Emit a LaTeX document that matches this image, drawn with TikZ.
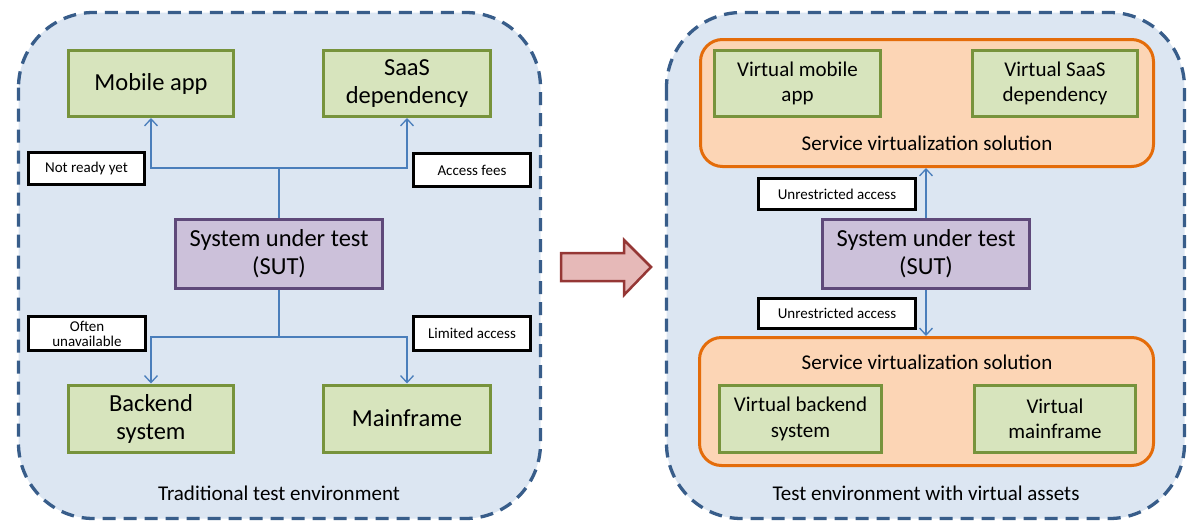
\documentclass[tikz,border=0pt]{standalone}
\usepackage{fontspec}
\setmainfont{Carlito}
\usetikzlibrary{arrows.meta}
\definecolor{envfill}{HTML}{DCE6F2}
\definecolor{envline}{HTML}{385D8A}
\definecolor{grfill}{HTML}{D7E4BD}
\definecolor{grline}{HTML}{77933C}
\definecolor{sutfill}{HTML}{CCC1DA}
\definecolor{sutline}{HTML}{5F497A}
\definecolor{orfill}{HTML}{FCD5B5}
\definecolor{orline}{HTML}{E46C0A}
\definecolor{conncol}{HTML}{4A7EBB}
\definecolor{arrfill}{HTML}{E6B9B8}
\definecolor{arrline}{HTML}{953735}
\tikzset{
  envbox/.style={draw=envline, fill=envfill, line width=3.3pt, dash pattern=on 13pt off 8pt, rounded corners=75pt},
  orbox/.style={draw=orline, fill=orfill, line width=3pt, rounded corners=22pt},
  greenbox/.style={draw=grline, fill=grfill, line width=3pt, inner sep=0pt, align=center},
  bigtxt/.style={font=\fontsize{24.5}{28}\selectfont},
  midtxt/.style={font=\fontsize{21}{25.5}\selectfont},
  labtxt/.style={font=\fontsize{21}{24}\selectfont},
  sutbox/.style={draw=sutline, fill=sutfill, line width=3pt, inner sep=0pt, align=center, minimum width=207pt, minimum height=69pt, bigtxt},
  notebox/.style={draw=black, fill=white, line width=3pt, inner sep=0pt, align=center, font=\fontsize{15}{18}\selectfont},
  conn/.style={draw=conncol, line width=1.5pt, -{Straight Barb[length=7pt,width=13pt,line width=1.3pt]}},
  line/.style={draw=conncol, line width=1.5pt},
}
\begin{document}
\begin{tikzpicture}[x=1pt,y=-1pt]
\useasboundingbox (0,0) rectangle (1188,522);
% containers
\draw[envbox] (18.5,12.5) rectangle (540.5,518.5);
\draw[envbox] (666.5,12.5) rectangle (1184.5,518.5);
% big arrow
\draw[draw=arrline, fill=arrfill, line width=2.5pt, line join=miter]
  (561,253) -- (624,253) -- (624,240) -- (651,267) -- (624,295) -- (624,281) -- (561,281) -- cycle;

% left side
\node[greenbox, bigtxt, minimum width=165pt, minimum height=66pt] (mob) at (151,83.5) {Mobile app};
\node[greenbox, bigtxt, minimum width=167pt, minimum height=66pt] (saas) at (407,83.5) {SaaS\\dependency};
\node[greenbox, bigtxt, minimum width=165pt, minimum height=67pt] (back) at (151,418.5) {Backend\\system};
\node[greenbox, bigtxt, minimum width=167pt, minimum height=67pt] (main) at (407,418.5) {Mainframe};
\node[sutbox] (sutL) at (279,254) {System under test\\(SUT)};
\node[notebox, minimum width=116pt, minimum height=32pt] (nr) at (86.5,168.5) {Not ready yet};
\node[notebox, minimum width=117pt, minimum height=33pt] (af) at (472,170) {Access fees};
\node[notebox, minimum width=117pt, minimum height=34pt] (ou) at (87,333.5) {Often\\[-3pt]unavailable};
\node[notebox, minimum width=117pt, minimum height=34pt] (la) at (472,333.5) {Limited access};
\coordinate (jt) at (279,168);
\coordinate (jb) at (279,337);
\draw[line] (sutL.north) -- (jt);
\draw[conn] (jt) -| (mob.south);
\draw[conn] (jt) -| (saas.south);
\draw[line] (sutL.south) -- (jb);
\draw[conn] (jb) -| (back.north);
\draw[conn] (jb) -| (main.north);
\node[labtxt] (tL) at (279,493) {Traditional test environment};

% right side
\draw[orbox] (700.5,39.5) rectangle (1153.5,166.5);
\draw[orbox] (699.5,337.5) rectangle (1153.5,465.5);
\node[greenbox, midtxt, minimum width=166pt, minimum height=66pt] (vmob) at (797.5,83.5) {Virtual mobile\\app};
\node[greenbox, midtxt, minimum width=165pt, minimum height=66pt] (vsaas) at (1055,83.5) {Virtual SaaS\\dependency};
\node[greenbox, midtxt, minimum width=162pt, minimum height=67pt] (vback) at (800.5,419) {Virtual backend\\system};
\node[greenbox, midtxt, minimum width=161pt, minimum height=67pt] (vmain) at (1055,419) {Virtual\\mainframe};
\node[labtxt] (svu) at (927,143) {Service virtualization solution};
\node[labtxt] (svl) at (927,362) {Service virtualization solution};
\coordinate (orU) at (926,168);
\coordinate (orL) at (926,336);
\node[sutbox] (sutR) at (926,254) {System under test\\(SUT)};
\node[notebox, minimum width=157pt, minimum height=31pt] (ua) at (837,194) {Unrestricted access};
\node[notebox, minimum width=157pt, minimum height=30pt] (ub) at (837,313) {Unrestricted access};
\draw[conn, line width=1.2pt] (sutR.north) -- (orU);
\draw[conn, line width=1.2pt] (sutR.south) -- (orL);
\node[labtxt] (tR) at (926,493) {Test environment with virtual assets};
\end{tikzpicture}
\end{document}
